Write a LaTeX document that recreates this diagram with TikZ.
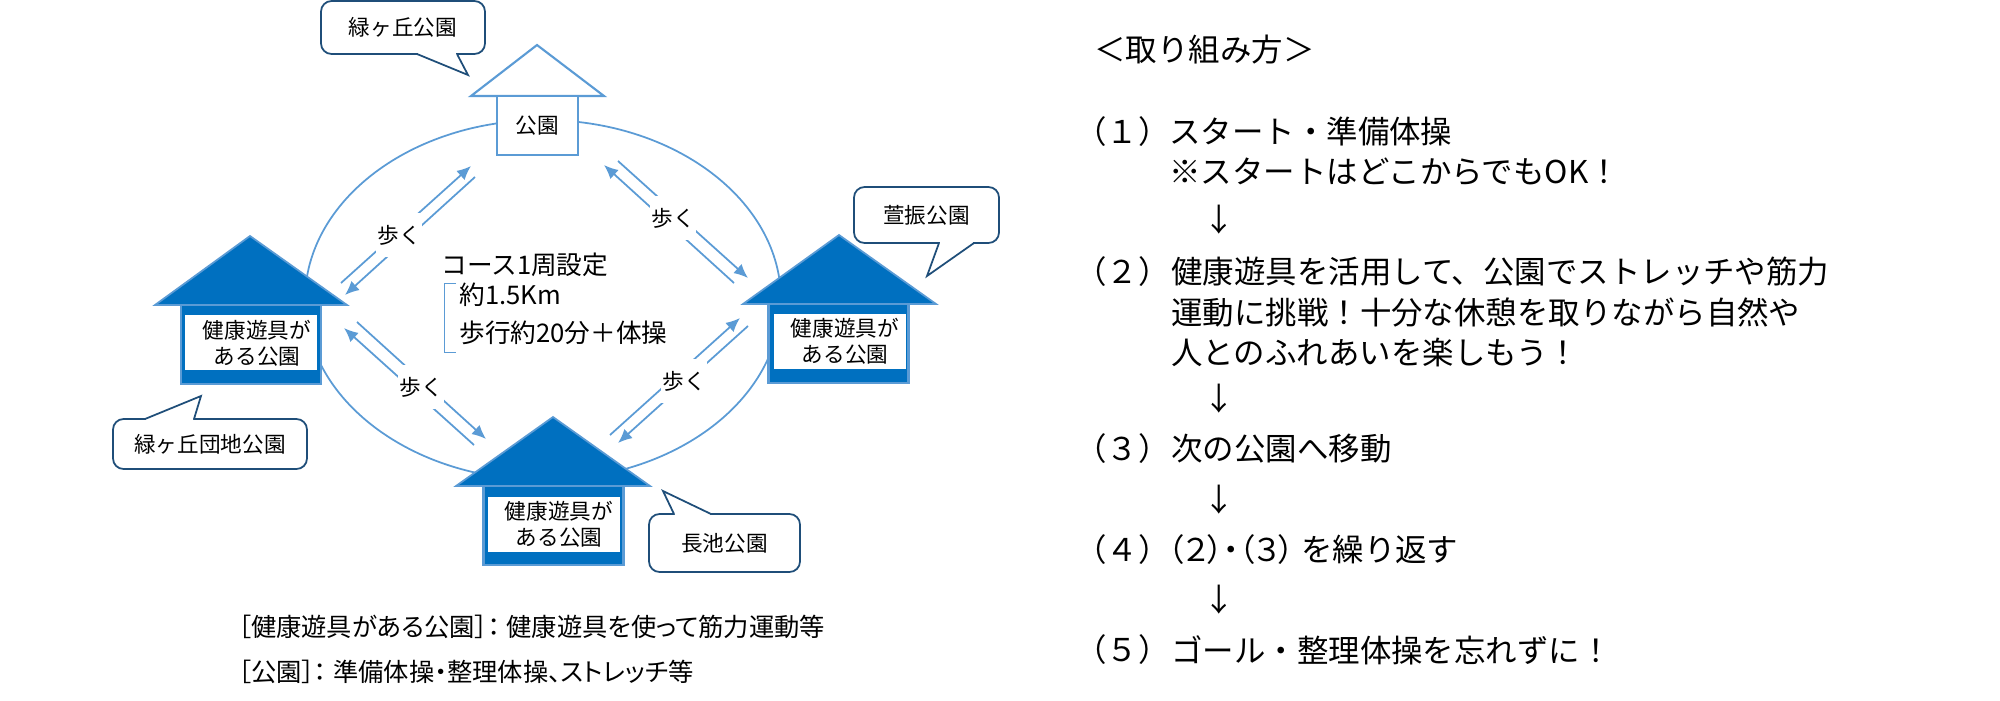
\documentclass[tikz,border=0pt]{standalone}
\usepackage{fontspec}
\setmainfont{Noto Sans CJK JP}
\newfontfamily\paltfont[RawFeature=+palt]{Noto Sans CJK JP}
\usetikzlibrary{arrows.meta,positioning}

\definecolor{parkblue}{HTML}{0070C0}
\definecolor{lineblue}{HTML}{5B9BD5}
\definecolor{balloonblue}{HTML}{1F4E79}

\begin{document}
\begin{tikzpicture}[x=0.02cm,y=-0.02cm,>={Latex[length=8pt,width=7pt]}]
\tikzstyle{roofwhite} = [draw = lineblue, line width = 1.2pt, fill = white, line join = miter]
\tikzstyle{roofdark} = [draw = lineblue, line width = 1pt, fill = parkblue]
\tikzstyle{bodywhite} = [draw = lineblue, line width = 1.2pt, fill = white, minimum width = 81*0.02cm, minimum height = 59*0.02cm, inner sep = 0pt, font = \fontsize{12.3}{14}\selectfont]
\tikzstyle{bodydark} = [draw = lineblue, line width = 1.2pt, fill = parkblue, minimum width = 140*0.02cm, minimum height = 79*0.02cm, inner sep = 0pt]
\tikzstyle{panel} = [fill = white, minimum width = 132*0.02cm, minimum height = 55*0.02cm, inner sep = 0pt]
\tikzstyle{parktext} = [align = center, inner sep = 0pt, font = \fontsize{12.3}{14.8}\selectfont]
\tikzstyle{balloon} = [draw = balloonblue, line width = 1pt, fill = white, rounded corners = 6pt, inner sep = 0pt, font = \fontsize{12.3}{14}\selectfont]
\tikzstyle{tailside} = [draw = balloonblue, line width = 1pt, fill = white]
\tikzstyle{tailbase} = [draw = white, line width = 1.6pt]
\tikzstyle{walk} = [fill = white, minimum width = 46*0.02cm, minimum height = 44*0.02cm, inner sep = 0pt, font = \fontsize{12.3}{14}\selectfont]
\tikzstyle{route} = [draw = lineblue, line width = 1pt]
\tikzstyle{course} = [anchor = west, inner sep = 0pt, font = \fontsize{14.6}{16}\selectfont]
\tikzstyle{legend} = [anchor = west, inner sep = 0pt, font = \paltfont\fontsize{14.4}{16}\selectfont]
\tikzstyle{steptext} = [anchor = west, align = left, inner sep = 0pt, font = \fontsize{17.9}{22.8}\selectfont]

\useasboundingbox (0,0) rectangle (2000,700);

% course
\draw[route] (543,300) ellipse (238 and 180);

% houses
\draw[roofwhite] (471,96) -- (537,45) -- (604,96) -- cycle;
\node[bodywhite] (park1) at (537.5,125.5) {公園};
\draw[roofdark] (155,305) -- (250,236) -- (347,305) -- cycle;
\node[bodydark] (park2) at (251,344.5) {};
\node[panel] (panel2) at (251,342.5) {};
\node[parktext] (text2) at (257,343.5) {健康遊具が\\ある公園};
\draw[roofdark] (743,304) -- (839,235) -- (936,304) -- cycle;
\node[bodydark] (park3) at (838.5,343.5) {};
\node[panel] (panel3) at (840,341.5) {};
\node[parktext] (text3) at (845,341.5) {健康遊具が\\ある公園};
\draw[roofdark] (456,486) -- (553,417) -- (650,486) -- cycle;
\node[bodydark] (park4) at (553.5,525.5) {};
\node[panel] (panel4) at (553.5,524) {};
\node[parktext] (text4) at (559,524) {健康遊具が\\ある公園};

% balloons
\node[balloon, minimum width = 164*0.02cm, minimum height = 53*0.02cm] (name1) at (403,27.5) {緑ヶ丘公園};
\draw[tailbase] (418,54) -- (456,54);
\draw[tailside] (417,54) -- (468,75) -- (457,54);
\node[balloon, minimum width = 145*0.02cm, minimum height = 56*0.02cm] (name3) at (926.5,215) {萱振公園};
\draw[tailbase] (940,243) -- (973,243);
\draw[tailside] (974,243) -- (927,276) -- (939,243);
\node[balloon, minimum width = 194*0.02cm, minimum height = 50*0.02cm] (name2) at (210,444) {緑ヶ丘団地公園};
\draw[tailbase] (146,419) -- (193,419);
\draw[tailside] (145,419) -- (201,396) -- (194,419);
\node[balloon, minimum width = 151*0.02cm, minimum height = 58*0.02cm] (name4) at (724.5,543) {長池公園};
\draw[tailbase] (675,514) -- (710,514);
\draw[tailside] (711,514) -- (663,491) -- (674,514);

% walking arrows
\coordinate (a1) at (341,283);
\coordinate (a2) at (471,166);
\coordinate (a3) at (475,177);
\coordinate (a4) at (345,295);
\coordinate (b1) at (734,283);
\coordinate (b2) at (604,165);
\coordinate (b3) at (618,161);
\coordinate (b4) at (748,278);
\coordinate (c1) at (610,435);
\coordinate (c2) at (740,318);
\coordinate (c3) at (748,326);
\coordinate (c4) at (618,443);
\coordinate (d1) at (357,322);
\coordinate (d2) at (486,439);
\coordinate (d3) at (474,445);
\coordinate (d4) at (344,328);
\draw[->, route] (a1) -- (a2);
\draw[->, route] (a3) -- (a4);
\draw[->, route] (b1) -- (b2);
\draw[->, route] (b3) -- (b4);
\draw[->, route] (c1) -- (c2);
\draw[->, route] (c3) -- (c4);
\draw[->, route] (d1) -- (d2);
\draw[->, route] (d3) -- (d4);
\node[walk] (walk1) at (399,235) {歩く};
\node[walk] (walk2) at (673,218) {歩く};
\node[walk] (walk3) at (684,381) {歩く};
\node[walk] (walk4) at (421,387) {歩く};

% course text
\node[course] (lap) at (441,265) {コース1周設定};
\node[course] (dist) at (459,295) {約1.5Km};
\node[course] (time) at (459,333) {歩行約20分＋体操};
\coordinate (brtop) at (456,283);
\coordinate (brbot) at (456,352);
\draw[draw = lineblue, line width = 0.5pt] (brtop) -- (444,283) -- (444,352) -- (brbot);

% legend
\node[legend] (legend1) at (238,627) {［健康遊具がある公園］：\hspace{0.25em}健康遊具を使って筋力運動等};
\node[legend] (legend2) at (238,672) {［公園］：\hspace{0.25em}準備体操・整理体操、ストレッチ等};

% steps
\node[steptext] (title) at (1094,50) {＜取り組み方＞};
\node[steptext] (num1) at (1075,132) {（１）};
\node[steptext] (step1) at (1169,151) {スタート・準備体操\\※スタートはどこからでもOK！};
\node[steptext] (down1) at (1203,220) {↓};
\node[steptext] (num2) at (1075,272) {（２）};
\node[steptext] (step2) at (1171,312) {健康遊具を活用して、公園でストレッチや筋力\\運動に挑戦！十分な休憩を取りながら自然や\\人とのふれあいを楽しもう！};
\node[steptext] (down2) at (1203,399) {↓};
\node[steptext] (num3) at (1075,449) {（３）};
\node[steptext] (step3) at (1171,449) {次の公園へ移動};
\node[steptext] (down3) at (1203,500) {↓};
\node[steptext] (num4) at (1075,550) {（４）};
\node[steptext] (step4) at (1168,550) {{\paltfont（２）・（３）}\hspace{0.2em}を繰り返す};
\node[steptext] (down4) at (1203,600) {↓};
\node[steptext] (num5) at (1075,650) {（５）};
\node[steptext] (step5) at (1171,650) {ゴール・整理体操を忘れずに！};
\end{tikzpicture}
\end{document}
